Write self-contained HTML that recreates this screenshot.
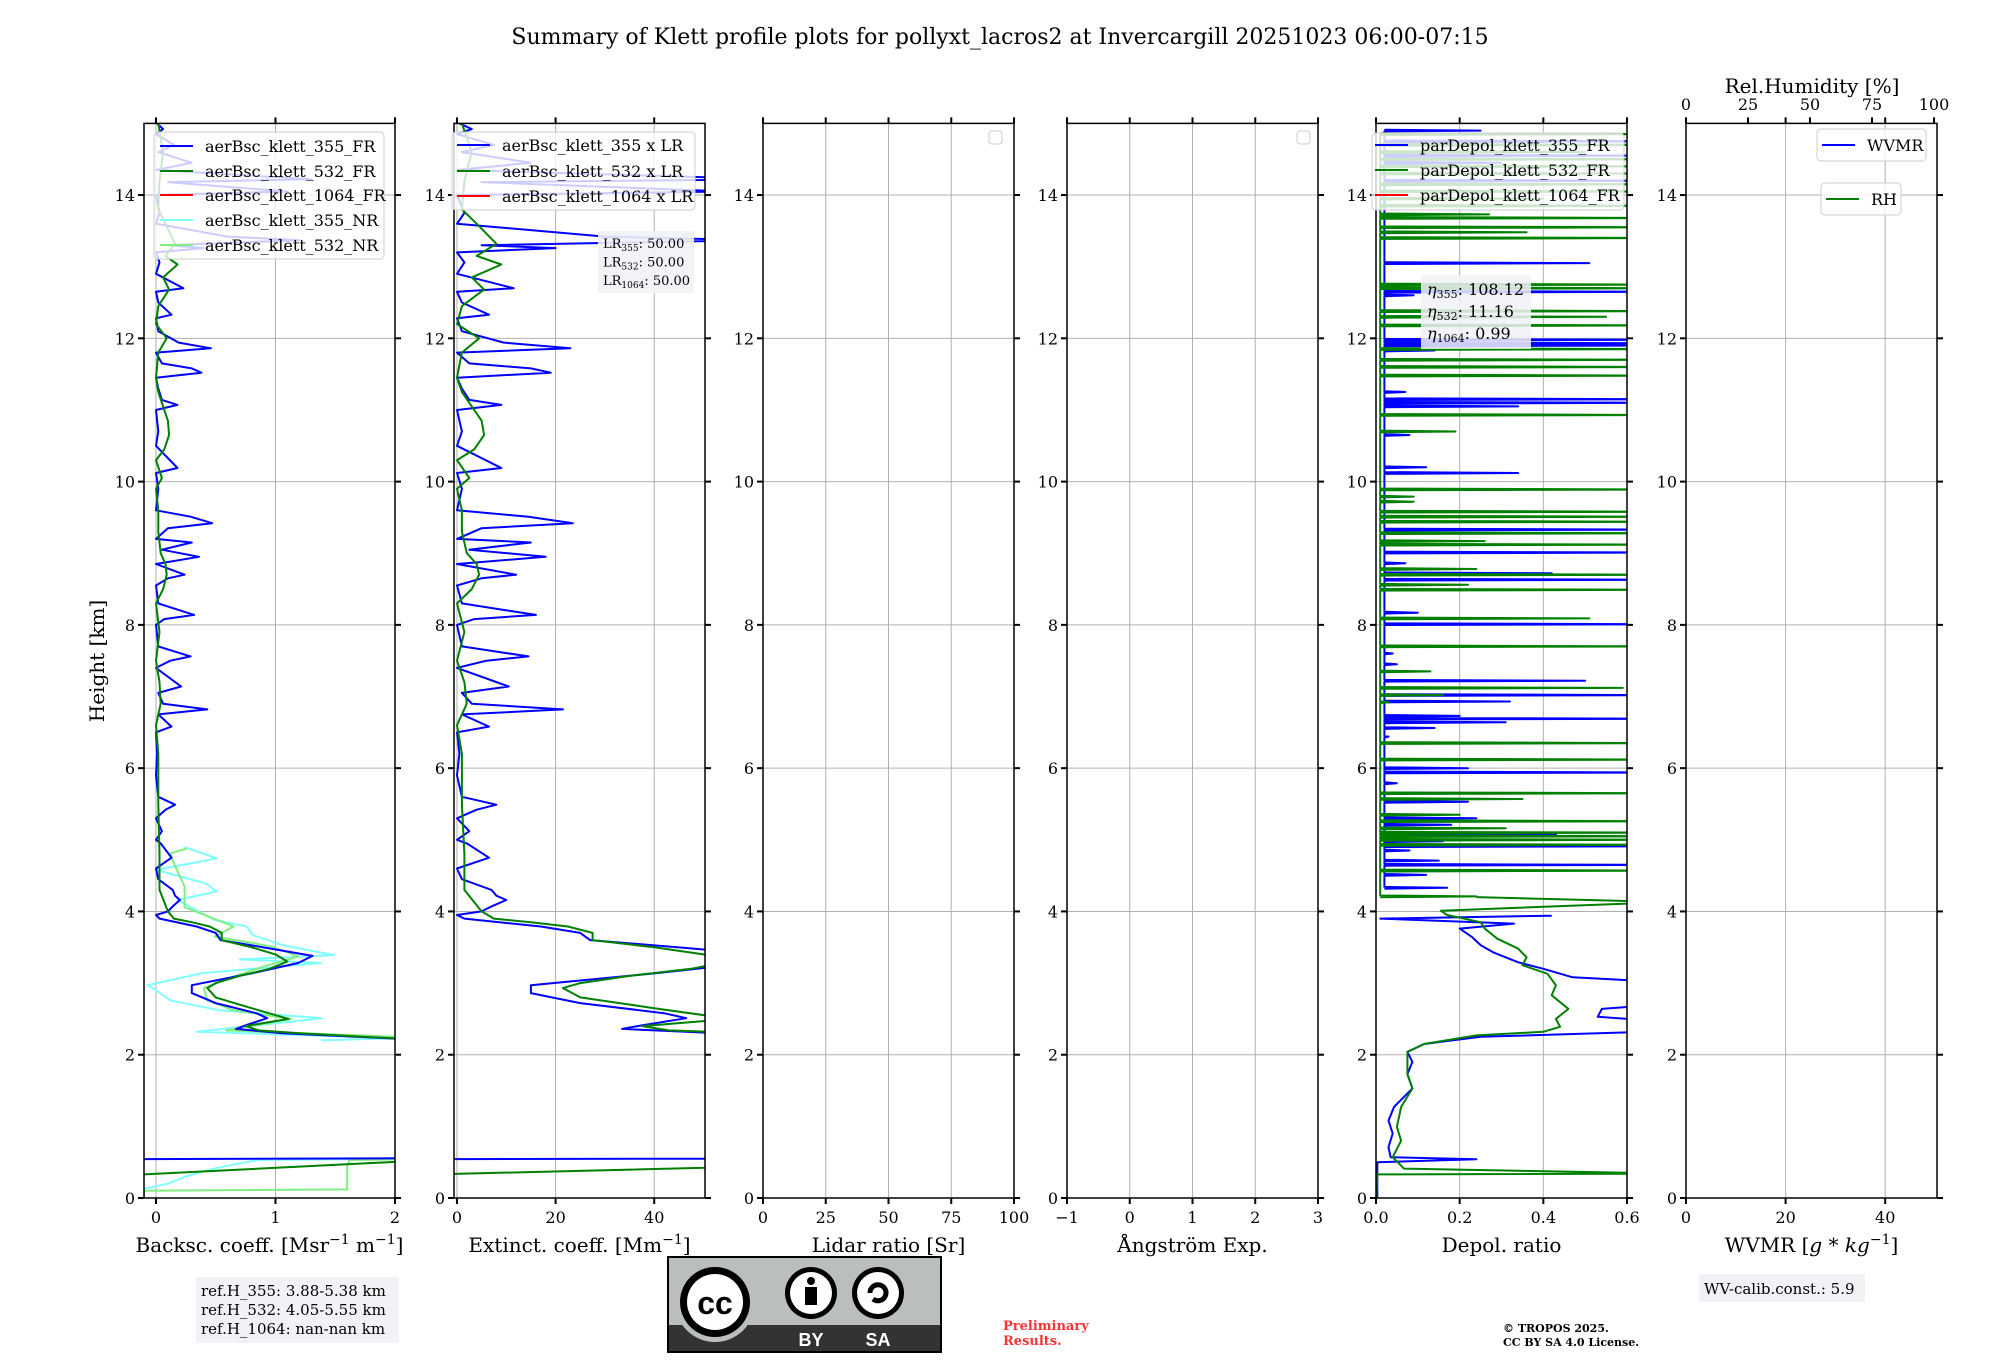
<!DOCTYPE html>
<html><head><meta charset="utf-8"><title>Klett profile summary</title>
<style>
html,body{margin:0;padding:0;background:#fff;}
svg{display:block;font-family:"DejaVu Serif","Liberation Serif",serif;}
</style></head>
<body>
<svg id="fig" width="2000" height="1360" viewBox="0 0 2000 1360" xmlns="http://www.w3.org/2000/svg">
<rect x="0" y="0" width="2000" height="1360" fill="#fff"/>
<text x="1000" y="44" text-anchor="middle" font-size="22" fill="#000">Summary of Klett profile plots for pollyxt_lacros2 at Invercargill 20251023 06:00-07:15</text>
<text x="0" y="0" transform="translate(104,661) rotate(-90)" text-anchor="middle" font-size="20">Height [km]</text>
<g id="axes"></g>

<!-- info boxes -->
<g>
<rect x="196" y="1277" width="203" height="66" fill="#f1f2f6"/>
<text x="201" y="1296" font-size="15">ref.H_355: 3.88-5.38 km</text>
<text x="201" y="1315" font-size="15">ref.H_532: 4.05-5.55 km</text>
<text x="201" y="1334" font-size="15">ref.H_1064: nan-nan km</text>
</g>
<g>
<rect x="1699" y="1274" width="166" height="28" fill="#f1f2f6"/>
<text x="1704" y="1294" font-size="15">WV-calib.const.: 5.9</text>
</g>
<g>
<text x="1003" y="1330" font-size="13" font-weight="bold" fill="#ff3333">Preliminary</text>
<text x="1003" y="1345" font-size="13" font-weight="bold" fill="#ff3333">Results.</text>
</g>
<g>
<text x="1503" y="1332" font-size="11" font-weight="bold">© TROPOS 2025.</text>
<text x="1503" y="1346" font-size="11" font-weight="bold">CC BY SA 4.0 License.</text>
</g>
<g>
<rect x="668" y="1257" width="273" height="95" fill="#bbbfbb" stroke="#000" stroke-width="2"/>
<rect x="669" y="1325" width="271" height="26" fill="#333"/>
<circle cx="715" cy="1302" r="40" fill="#bbbfbb"/>
<circle cx="715" cy="1302" r="35" fill="#000"/>
<circle cx="715" cy="1302" r="28" fill="#fff"/>
<text x="715" y="1314" text-anchor="middle" font-family="Liberation Sans,sans-serif" font-weight="bold" font-size="32" fill="#000">cc</text>
<circle cx="811" cy="1293" r="26" fill="#000"/>
<circle cx="811" cy="1293" r="21" fill="#fff"/>
<circle cx="811" cy="1281" r="4" fill="#000"/>
<rect x="805" y="1287" width="12" height="18" fill="#000"/>
<circle cx="878" cy="1293" r="26" fill="#000"/>
<circle cx="878" cy="1293" r="21" fill="#fff"/>
<path d="M870 1293 a8 8 0 1 1 3 6" fill="none" stroke="#000" stroke-width="5"/>
<text x="811" y="1346" text-anchor="middle" font-family="Liberation Sans,sans-serif" font-weight="bold" font-size="18" fill="#fff">BY</text>
<text x="878" y="1346" text-anchor="middle" font-family="Liberation Sans,sans-serif" font-weight="bold" font-size="18" fill="#fff">SA</text>
</g>
</svg>
<script>
// ---------- data ----------
const lidarRatio = [50.00, 50.00, 50.00];
const heightTicks = [0, 2, 4, 6, 8, 10, 12, 14];
// backscatter 355 FR profile (km, Msr-1 m-1)
const bsc355H = [15.0,14.92,14.85,14.7,14.6,14.45,14.35,14.22,14.18,14.05,14.0,13.75,13.6,13.42,13.37,13.3,13.26,13.2,13.06,12.9,12.7,12.65,12.5,12.33,12.28,12.1,11.94,11.86,11.8,11.65,11.58,11.52,11.45,11.3,11.14,11.07,11.0,10.7,10.5,10.19,10.12,9.9,9.6,9.51,9.42,9.35,9.2,9.15,9.05,8.95,8.85,8.7,8.65,8.55,8.3,8.14,8.08,8.0,7.7,7.56,7.5,7.4,7.14,7.05,6.9,6.82,6.75,6.58,6.5,6.2,5.9,5.6,5.49,5.42,5.3,5.12,5.0,4.95,4.75,4.6,4.45,4.3,4.22,4.16,4.07,4.0,3.95,3.9,3.79,3.7,3.6,3.49,3.38,3.28,3.14,2.97,2.86,2.72,2.58,2.51,2.41,2.36,2.3,2.2,2.0,0.56,0.54,0.0];
const bsc355V = [0.01,0.06,0.0,0.15,0.02,0.3,0.0,1.3,0.1,1.1,0.0,0.03,0.0,0.6,1.2,0.1,0.4,0.0,0.03,0.0,0.23,0.0,0.02,0.13,0.0,0.02,0.19,0.46,0.0,0.05,0.3,0.38,0.0,0.02,0.05,0.18,0.0,0.02,0.0,0.18,0.0,0.02,0.0,0.29,0.47,0.1,0.0,0.3,0.05,0.36,0.0,0.24,0.1,0.0,0.02,0.32,0.07,0.0,0.02,0.29,0.12,0.0,0.21,0.02,0.06,0.43,0.02,0.13,0.0,0.01,0.0,0.02,0.16,0.08,0.0,0.05,0.0,0.04,0.13,0.0,0.02,0.14,0.16,0.2,0.14,0.1,0.0,0.03,0.34,0.5,0.54,0.93,1.31,1.19,0.81,0.3,0.3,0.5,0.84,0.93,0.75,0.67,1.06,2.3,3.0,3.0,-0.5,-0.5];
// backscatter 532 FR profile
const bsc532H = [15.0,14.6,14.2,13.8,13.6,13.32,13.15,13.03,12.85,12.68,12.45,12.2,12.0,11.8,11.45,11.25,11.05,10.85,10.65,10.45,10.3,10.05,9.9,9.6,9.3,9.0,8.85,8.7,8.5,8.3,7.9,7.5,7.2,6.9,6.6,6.2,5.5,4.8,4.3,4.0,3.9,3.85,3.79,3.7,3.6,3.5,3.4,3.3,3.2,3.1,3.0,2.93,2.8,2.65,2.5,2.4,2.34,2.3,2.2,2.0,0.52,0.33,0.0];
const bsc532V = [0.02,0.06,0.03,0.02,0.08,0.16,0.08,0.18,0.06,0.11,0.02,0.0,0.09,0.02,0.0,0.02,0.06,0.1,0.11,0.07,0.0,0.05,0.0,0.02,0.02,0.04,0.08,0.09,0.06,0.0,0.03,0.0,0.03,0.04,0.0,0.02,0.02,0.03,0.03,0.1,0.15,0.3,0.45,0.55,0.55,0.8,1.0,1.1,0.95,0.7,0.5,0.43,0.5,0.8,1.11,0.75,0.86,1.2,2.3,3.0,2.2,-0.1,-0.2];
// near-range 355 (upper segment, lower segment)
const nr355H = [4.9,4.74,4.58,4.39,4.28,4.16,3.88,3.79,3.67,3.53,3.39,3.33,3.28,3.14,2.97,2.9,2.76,2.62,2.51,2.32,2.23,2.2];
const nr355V = [0.24,0.51,0.0,0.42,0.51,0.18,0.49,0.76,0.81,1.06,1.49,0.7,1.38,0.39,-0.07,0.0,0.12,0.53,1.39,0.34,2.01,1.38];
const nr355LowH = [0.56,0.53,0.45,0.4,0.3,0.2,0.13,0.0];
const nr355LowV = [3.0,0.85,0.6,0.46,0.25,0.1,-0.1,-0.2];
// near-range 532
const nr532H = [4.88,4.81,4.67,4.35,4.06,3.79,3.65,3.51,3.37,3.23,3.09,2.93,2.76,2.62,2.5,2.34,2.25,2.2];
const nr532V = [0.26,0.12,0.15,0.24,0.24,0.65,0.49,0.97,1.19,0.9,0.65,0.4,0.43,0.65,1.13,0.59,2.01,2.2];
const nr532LowH = [0.56,0.53,0.45,0.3,0.12,0.1,0.0];
const nr532LowV = [3.0,1.62,1.6,1.6,1.6,-0.1,-0.1];
// depol continuous lower profiles
const dep355H = [3.94,3.9,3.83,3.76,3.64,3.53,3.43,3.29,3.2,3.08,3.01,2.71,2.64,2.53,2.46,2.33,2.25,2.15,2.04,1.9,1.73,1.53,1.27,1.08,0.9,0.71,0.57,0.54,0.5,0.0];
const dep355V = [0.42,0.01,0.33,0.2,0.23,0.25,0.28,0.34,0.4,0.47,0.7,0.7,0.54,0.53,0.7,0.7,0.25,0.115,0.075,0.087,0.075,0.087,0.043,0.03,0.04,0.03,0.035,0.24,0.003,0.003];
const dep532H = [4.2,4.13,4.01,3.95,3.85,3.76,3.62,3.48,3.36,3.25,3.13,2.97,2.83,2.64,2.5,2.39,2.32,2.27,2.15,2.04,1.9,1.73,1.53,1.27,0.99,0.8,0.57,0.41,0.34,0.33,0.0];
const dep532V = [0.24,0.7,0.155,0.17,0.25,0.26,0.29,0.34,0.36,0.35,0.41,0.43,0.42,0.46,0.43,0.44,0.4,0.24,0.115,0.075,0.075,0.075,0.087,0.06,0.05,0.06,0.04,0.067,0.7,0.003,0.0];
// depol spikes above 4 km
const dep355SpikeH = [14.9,14.75,14.55,14.45,14.2,13.05,12.65,12.6,11.98,11.93,11.9,11.83,11.25,11.15,11.1,11.05,10.65,10.2,10.12,9.33,9.01,8.86,8.72,8.63,8.17,8.01,7.6,7.45,7.22,7.02,6.93,6.73,6.69,6.64,6.56,6.44,6.0,5.94,5.79,5.53,5.3,5.21,5.08,4.98,4.91,4.85,4.71,4.65,4.51,4.33];
const dep355SpikeV = [0.25,0.7,0.7,0.3,0.7,0.51,0.7,0.09,0.7,0.7,0.7,0.14,0.07,0.7,0.7,0.34,0.08,0.12,0.34,0.7,0.7,0.07,0.42,0.7,0.1,0.7,0.04,0.05,0.5,0.7,0.32,0.2,0.7,0.31,0.14,0.03,0.22,0.7,0.05,0.22,0.24,0.18,0.43,0.16,0.7,0.08,0.15,0.7,0.12,0.17];
const dep532SpikeH = [14.85,14.7,14.6,14.5,14.4,14.3,14.15,14.05,13.95,13.85,13.73,13.68,13.55,13.48,13.4,12.75,12.7,12.38,12.3,12.18,11.85,11.7,11.6,11.48,10.93,10.7,9.89,9.79,9.72,9.58,9.51,9.44,9.28,9.17,9.12,8.78,8.7,8.56,8.49,8.09,7.7,7.35,7.12,7.02,6.92,6.35,6.12,5.65,5.57,5.35,5.26,5.16,5.1,5.05,5.0,4.93,4.57,4.21];
const dep532SpikeV = [0.7,0.7,0.5,0.7,0.7,0.6,0.7,0.7,0.4,0.7,0.27,0.7,0.7,0.36,0.7,0.7,0.7,0.7,0.55,0.7,0.7,0.7,0.7,0.7,0.7,0.19,0.7,0.09,0.09,0.7,0.7,0.7,0.7,0.26,0.7,0.24,0.7,0.22,0.7,0.51,0.7,0.13,0.59,0.16,0.03,0.7,0.7,0.7,0.35,0.2,0.7,0.31,0.7,0.7,0.7,0.7,0.7,0.24];

// ---------- layout ----------
const NS = 'http://www.w3.org/2000/svg';
const root = document.getElementById('axes');
const Y0 = 1198, PXKM = 71.64, AW = 251;
function yScale(h){ return Y0 - h * PXKM; }
function el(tag, attrs, parent){
  const e = document.createElementNS(NS, tag);
  for (const k in attrs) e.setAttribute(k, attrs[k]);
  (parent || root).appendChild(e);
  return e;
}
const panels = [
  {left:144, xmin:-0.1, xmax:2.0, ticks:[0,1,2], labels:['0','1','2'], xlabel:'Backsc. coeff. [Msr<tspan baseline-shift="super" font-size="14">−1</tspan> m<tspan baseline-shift="super" font-size="14">−1</tspan>]', name:'backscatter'},
  {left:454, xmin:-0.6, xmax:50.3, ticks:[0,20,40], labels:['0','20','40'], xlabel:'Extinct. coeff. [Mm<tspan baseline-shift="super" font-size="14">−1</tspan>]', name:'extinction'},
  {left:763, xmin:0, xmax:100, ticks:[0,25,50,75,100], labels:['0','25','50','75','100'], xlabel:'Lidar ratio [Sr]', name:'lidar-ratio'},
  {left:1067, xmin:-1, xmax:3, ticks:[-1,0,1,2,3], labels:['−1','0','1','2','3'], xlabel:'Ångström Exp.', name:'angstrom'},
  {left:1376, xmin:0, xmax:0.6, ticks:[0,0.2,0.4,0.6], labels:['0.0','0.2','0.4','0.6'], xlabel:'Depol. ratio', name:'depol'},
  {left:1686, xmin:0, xmax:50.4, ticks:[0,20,40], labels:['0','20','40'], xlabel:'WVMR [<tspan font-style="italic">g</tspan> * <tspan font-style="italic">kg</tspan><tspan baseline-shift="super" font-size="14">−1</tspan>]', name:'wvmr'}
];
panels.forEach(p => { p.x = v => p.left + (v - p.xmin) / (p.xmax - p.xmin) * AW; });

function polyline(p, hs, vs, color, width, name, g, opacity){
  let d = '';
  for (let i = 0; i < hs.length; i++) d += (i ? ' ' : '') + p.x(vs[i]).toFixed(1) + ',' + yScale(hs[i]).toFixed(1);
  const e = el('polyline', {points:d, fill:'none', stroke:color, 'stroke-width':width, 'stroke-linejoin':'round', opacity: opacity || 1}, g);
  
  
  return e;
}
function spikes(p, hs, vs, base, color, name, g){
  const H = [], V = [];
  for (let i = hs.length - 1; i >= 0; i--) {
    H.push(hs[i] - 0.012); V.push(base);
    H.push(hs[i]); V.push(vs[i]);
    H.push(hs[i] + 0.012); V.push(base);
  }
  return polyline(p, H, V, color, 2, name, g);
}

panels.forEach((p, i) => {
  const g = el('g', {});
  
  
  const top = yScale(15), bot = Y0, right = p.left + AW;
  // clip
  const cp = el('clipPath', {id:'clip' + i}, g);
  el('rect', {x:p.left, y:top, width:AW, height:bot - top}, cp);
  // grid
  p.ticks.forEach(t => {
    const gl = el('line', {x1:p.x(t), x2:p.x(t), y1:top, y2:bot, stroke:'#b0b0b0', 'stroke-width':1}, g);
    
    
  });
  heightTicks.forEach(h => {
    const gl = el('line', {x1:p.left, x2:right, y1:yScale(h), y2:yScale(h), stroke:'#b0b0b0', 'stroke-width':1}, g);
    
    
  });
  const dg = el('g', {'clip-path':'url(#clip' + i + ')'}, g);
  
  
  if (i === 0) {
    polyline(p, nr355H, nr355V, '#80ffff', 2, 'bsc-355-nr-line', dg);
    polyline(p, nr355LowH, nr355LowV, '#80ffff', 2, 'bsc-355-nr-low-line', dg);
    polyline(p, nr532H, nr532V, '#80ee80', 2, 'bsc-532-nr-line', dg);
    polyline(p, nr532LowH, nr532LowV, '#80ee80', 2, 'bsc-532-nr-low-line', dg);
    polyline(p, bsc355H, bsc355V, '#0000ff', 2, 'bsc-355-fr-line', dg);
    polyline(p, bsc532H, bsc532V, '#008000', 2, 'bsc-532-fr-line', dg);
  } else if (i === 1) {
    polyline(p, bsc355H, bsc355V.map(v => v * lidarRatio[0]), '#0000ff', 2, 'ext-355-line', dg);
    polyline(p, bsc532H, bsc532V.map(v => v * lidarRatio[1]), '#008000', 2, 'ext-532-line', dg);
  } else if (i === 4) {
    spikes(p, dep355SpikeH, dep355SpikeV, 0.02, '#0000ff', 'depol-355-upper-line', dg);
    spikes(p, dep532SpikeH, dep532SpikeV, 0.01, '#008000', 'depol-532-upper-line', dg);
    polyline(p, dep355H, dep355V, '#0000ff', 2, 'depol-355-line', dg);
    polyline(p, dep532H, dep532V, '#008000', 2, 'depol-532-line', dg);
  }
  // spines
  const sp = el('rect', {x:p.left, y:top, width:AW, height:bot - top, fill:'none', stroke:'#000', 'stroke-width':1.5}, g);
  
  
  // x ticks and labels
  p.ticks.forEach((t, k) => {
    const xx = p.x(t);
    el('line', {x1:xx, x2:xx, y1:bot, y2:bot + 6, stroke:'#000', 'stroke-width':2}, g);
    el('line', {x1:xx, x2:xx, y1:top, y2:top - 6, stroke:'#000', 'stroke-width':2}, g);
    const tl = el('text', {x:xx, y:bot + 25, 'text-anchor':'middle', 'font-size':16}, g);
    tl.textContent = p.labels[k];
    
    
  });
  // y ticks
  heightTicks.forEach(h => {
    const yy = yScale(h);
    el('line', {x1:p.left - 6, x2:p.left, y1:yy, y2:yy, stroke:'#000', 'stroke-width':2}, g);
    el('line', {x1:right, x2:right + 6, y1:yy, y2:yy, stroke:'#000', 'stroke-width':2}, g);
    const tl = el('text', {x:p.left - 9, y:yy + 6, 'text-anchor':'end', 'font-size':16}, g);
    tl.textContent = String(h);
    
    
  });
  const xl = el('text', {x:p.left + AW / 2, y:1252, 'text-anchor':'middle', 'font-size':20}, g);
  xl.innerHTML = p.xlabel;
  
  
});

// RH top axis
(function(){
  const p = panels[5];
  const rhTicks = [0, 25, 50, 75, 100];
  rhTicks.forEach(t => {
    const xx = p.left + t / 100 * 248;
    el('line', {x1:xx, x2:xx, y1:yScale(15), y2:yScale(15) - 6, stroke:'#000', 'stroke-width':2});
    const tl = el('text', {x:xx, y:110, 'text-anchor':'middle', 'font-size':16});
    tl.textContent = String(t);
    
    
  });
  const t = el('text', {x:p.left + 126, y:93, 'text-anchor':'middle', 'font-size':20});
  t.textContent = 'Rel.Humidity [%]';
  
  
})();

// legends
function legend(x, y, w, h, entries, name, fs){
  const g = el('g', {});
  
  
  el('rect', {x:x, y:y, width:w, height:h, rx:4, fill:'#fff', 'fill-opacity':0.8, stroke:'#ccc', 'stroke-width':1}, g);
  entries.forEach(en => {
    const ln = el('line', {x1:en[0], x2:en[0] + 33, y1:en[1], y2:en[1], stroke:en[3], 'stroke-width':2}, g);
    
    
    const tx = el('text', {x:en[0] + 45, y:en[1] + 6, 'font-size':fs || 16}, g);
    tx.textContent = en[2];
    
    
  });
}
legend(154, 132, 230, 127, [[160,146,'aerBsc_klett_355_FR','#0000ff'],[160,171,'aerBsc_klett_532_FR','#008000'],[160,195,'aerBsc_klett_1064_FR','#ff0000'],[160,220,'aerBsc_klett_355_NR','#80ffff'],[160,245,'aerBsc_klett_532_NR','#80ee80']], 'backscatter-legend');
legend(452, 132, 243, 78, [[457,145,'aerBsc_klett_355 x LR','#0000ff'],[457,171,'aerBsc_klett_532 x LR','#008000'],[457,196,'aerBsc_klett_1064 x LR','#ff0000']], 'extinction-legend');
legend(1372, 133, 252, 77, [[1375,145,'parDepol_klett_355_FR','#0000ff'],[1375,170,'parDepol_klett_532_FR','#008000'],[1375,195,'parDepol_klett_1064_FR','#ff0000']], 'depol-legend');
legend(1817, 129, 109, 32, [[1822,145,'WVMR','#0000ff']], 'wvmr-legend');
legend(1821, 183, 80, 32, [[1826,199,'RH','#008000']], 'rh-legend');
// empty legends
[[989,131],[1297,131]].forEach(b => {
  const r = el('rect', {x:b[0], y:b[1], width:13, height:13, rx:3, fill:'#fff', stroke:'#ccc'});
  
  
});
// LR box
(function(){
  const g = el('g', {});
  
  
  el('rect', {x:598, y:231, width:96, height:62, fill:'#f1f2f6', 'fill-opacity':0.9}, g);
  ['355','532','1064'].forEach((w, k) => {
    const t = el('text', {x:603, y:248 + k * 18.5, 'font-size':13}, g);
    t.innerHTML = 'LR<tspan font-size="9" dy="3">' + w + '</tspan><tspan dy="-3">: ' + lidarRatio[k].toFixed(2) + '</tspan>';
  });
})();
// eta box
(function(){
  const g = el('g', {});
  
  
  el('rect', {x:1421, y:275, width:110, height:74, fill:'#f1f2f6', 'fill-opacity':0.85}, g);
  const etas = [['355','108.12'],['532','11.16'],['1064','0.99']];
  etas.forEach((e, k) => {
    const t = el('text', {x:1427, y:295 + k * 22, 'font-size':16}, g);
    t.innerHTML = '<tspan font-style="italic">η</tspan><tspan font-size="11" dy="3">' + e[0] + '</tspan><tspan dy="-3">: ' + e[1] + '</tspan>';
  });
})();
</script>
</body></html>
